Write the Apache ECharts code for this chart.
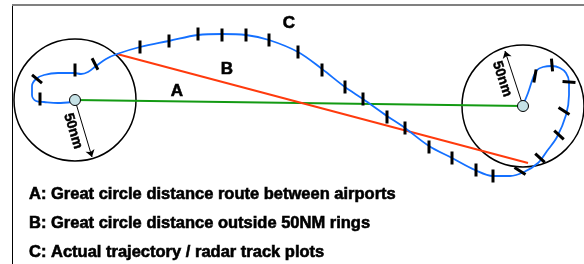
<!DOCTYPE html>
<html>
<head>
<meta charset="utf-8" />
<title>Great circle distance vs actual trajectory</title>
<script src="https://cdn.jsdelivr.net/npm/echarts@6/dist/echarts.min.js"></script>
<style type="text/css">
html, body { margin: 0; padding: 0; background: #fff; }
#chart { width: 584px; height: 264px; }
</style>
</head>
<body>
<div id="chart"></div>
<script type="text/javascript">
// airports: centre x, centre y, 50nm ring radius (picture units)
var airports = [[75, 100, 61], [523, 106, 61]];
// A: great circle between airports
var routeA = [[75, 100], [523, 106]];
// B: great circle outside the 50nm rings
var routeB = [[117, 54], [528, 163]];
// C: actual trajectory
var track = [
	[72, 102], [58, 103], [44, 102], [36, 101], [32, 95], [32, 86], [36, 79], [44, 75],
	[58, 73], [74, 73], [81, 74], [88, 72], [96, 66], [106, 59], [117, 54], [140, 47],
	[169, 41], [198, 35], [222, 34], [246, 35], [269, 40], [298, 52], [322, 69], [345, 87],
	[363, 99], [387, 116], [405, 128], [429, 146], [452, 158], [475, 170], [493, 176],
	[510, 176], [524, 172], [538, 163], [547, 151], [557, 137], [566, 115], [569, 95],
	[569, 82], [566, 73], [560, 68], [552, 66], [543, 67], [537, 70], [533, 78], [528, 93],
	[523, 105]
];
// radar track plots: x, y, tick angle (deg)
var plots = [
	[40, 99, 90], [37, 79, 40], [75, 70, 90], [95, 64, 63], [140, 47, 90], [169, 41, 90],
	[198, 34, 90], [222, 35, 90], [246, 35, 90], [269, 40, 90], [298, 52, 90], [322, 70, 90],
	[345, 87, 90], [363, 99, 90], [387, 117, 90], [405, 128, 90], [429, 147, 90], [452, 158, 90],
	[476, 170, 90], [493, 176, 90], [520, 171, 32], [540, 158, 43], [559, 135, 43], [564, 111, 33],
	[569, 82, 5], [552, 65, 85], [535, 76, 100]
];
// 50nm radius arrows
var rulers = [[[75, 100], [92, 157]], [[523, 106], [505, 51]]];
var rulerText = [[73, 131, -73], [502, 79, -72]];
var letters = [['A', 177, 91], ['B', 227, 69], ['C', 289, 23]];
var notes = [
	'A: Great circle distance route between airports',
	'B: Great circle distance outside 50NM rings',
	'C: Actual trajectory / radar track plots'
];
var noteY = [194, 223, 252];

var myChart = echarts.init(document.getElementById('chart'));
var option = {
	animation: false,
	grid: { left: 0, right: 0, top: 0, bottom: 0 },
	xAxis: { type: 'value', min: 0, max: 584, show: false },
	yAxis: { type: 'value', min: 0, max: 264, inverse: true, show: false },
	series: [{
		type: 'custom',//50nm rings
		data: airports,
		z: 1,
		renderItem: function (params, api) {
			var c = api.coord([api.value(0), api.value(1)]);
			var r = api.size([api.value(2), 0])[0];
			return {
				type: 'circle',
				shape: { cx: c[0], cy: c[1], r: r },
				style: { fill: 'none', stroke: '#000', lineWidth: 1.5 }
			};
		}
	}, {
		type: 'line',
		data: routeA,
		symbol: 'none',
		z: 2,
		lineStyle: { color: '#139a13', width: 2 }
	}, {
		type: 'line',
		data: routeB,
		symbol: 'none',
		z: 2,
		lineStyle: { color: '#ff3a0d', width: 2 }
	}, {
		type: 'line',
		data: track,
		symbol: 'none',
		smooth: 0.35,
		z: 3,
		lineStyle: { color: '#1470ff', width: 1.8 }
	}, {
		type: 'custom',//radar plots
		data: plots,
		z: 4,
		renderItem: function (params, api) {
			var c = api.coord([api.value(0), api.value(1)]);
			var a = api.value(2) * Math.PI / 180;
			var h = 6.5;
			return {
				type: 'line',
				shape: {
					x1: c[0] - Math.cos(a) * h, y1: c[1] - Math.sin(a) * h,
					x2: c[0] + Math.cos(a) * h, y2: c[1] + Math.sin(a) * h
				},
				style: { stroke: '#000', lineWidth: 3 }
			};
		}
	}, {
		type: 'lines',
		coordinateSystem: 'cartesian2d',
		z: 5,
		symbol: ['none', 'arrow'],
		symbolSize: 7,
		data: rulers.map(function (r) { return { coords: r }; }),
		lineStyle: { color: '#000', width: 1, opacity: 1 }
	}, {
		type: 'scatter',
		data: routeA,
		symbol: 'circle',
		symbolSize: 11,
		z: 6,
		itemStyle: { color: '#c6e2e6', borderColor: '#000', borderWidth: 1, opacity: 1 }
	}]
};
myChart.setOption(option);

// texts
var g = [];
g.push({ type: 'line', shape: { x1: 12.5, y1: 5, x2: 12.5, y2: 264 }, style: { stroke: '#000', lineWidth: 1 } });
g.push({ type: 'line', shape: { x1: 12, y1: 5, x2: 584, y2: 5 }, style: { stroke: '#808080', lineWidth: 2 } });
letters.forEach(function (l) {
	var p = myChart.convertToPixel({ gridIndex: 0 }, [l[1], l[2]]);
	g.push({
		type: 'text', x: p[0], y: p[1],
		style: { text: l[0], font: 'bold 17px "Liberation Sans", Arial, sans-serif', fill: '#000', stroke: '#000', lineWidth: 0.6, align: 'center', verticalAlign: 'middle' }
	});
});
rulerText.forEach(function (t) {
	var p = myChart.convertToPixel({ gridIndex: 0 }, [t[0], t[1]]);
	g.push({
		type: 'text', x: p[0], y: p[1], rotation: t[2] * Math.PI / 180,
		style: { text: '50nm', font: 'bold 14px "Liberation Sans", Arial, sans-serif', fill: '#000', stroke: '#000', lineWidth: 0.5, align: 'center', verticalAlign: 'middle' }
	});
});
notes.forEach(function (n, i) {
	g.push({
		type: 'text', x: 29, y: noteY[i],
		style: { text: n, font: 'bold 16.5px "Liberation Sans", Arial, sans-serif', fill: '#000', stroke: '#000', lineWidth: 0.6, align: 'left', verticalAlign: 'middle' }
	});
});
myChart.setOption({ graphic: g });
</script>
</body>
</html>
